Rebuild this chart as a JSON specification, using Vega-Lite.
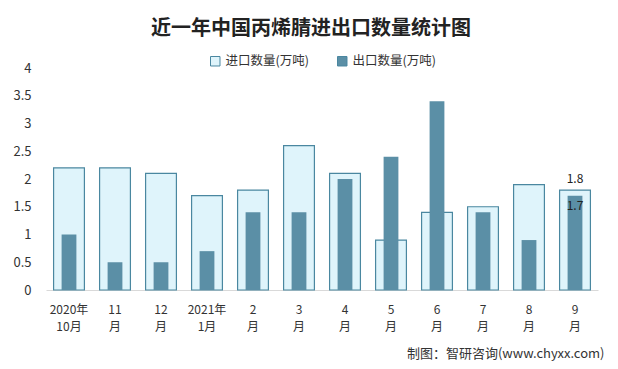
{
  "$schema": "https://vega.github.io/schema/vega-lite/v6.json",
  "width": 552,
  "height": 222,
  "padding": {"left": 12, "top": 19, "right": 20, "bottom": 5},
  "background": "white",
  "title": {
    "text": "近一年中国丙烯腈进出口数量统计图",
    "fontSize": 20,
    "fontWeight": "bold",
    "font": "Noto Sans CJK SC",
    "color": "#222222",
    "anchor": "middle",
    "frame": "group",
    "dx": -11,
    "offset": 16
  },
  "data": {
    "values": [
      {"m": "2020年|10月", "s": "进口数量(万吨)", "v": 2.2},
      {"m": "11|月", "s": "进口数量(万吨)", "v": 2.2},
      {"m": "12|月", "s": "进口数量(万吨)", "v": 2.1},
      {"m": "2021年|1月", "s": "进口数量(万吨)", "v": 1.7},
      {"m": "2|月", "s": "进口数量(万吨)", "v": 1.8},
      {"m": "3|月", "s": "进口数量(万吨)", "v": 2.6},
      {"m": "4|月", "s": "进口数量(万吨)", "v": 2.1},
      {"m": "5|月", "s": "进口数量(万吨)", "v": 0.9},
      {"m": "6|月", "s": "进口数量(万吨)", "v": 1.4},
      {"m": "7|月", "s": "进口数量(万吨)", "v": 1.5},
      {"m": "8|月", "s": "进口数量(万吨)", "v": 1.9},
      {"m": "9|月", "s": "进口数量(万吨)", "v": 1.8},
      {"m": "2020年|10月", "s": "出口数量(万吨)", "v": 1.0},
      {"m": "11|月", "s": "出口数量(万吨)", "v": 0.5},
      {"m": "12|月", "s": "出口数量(万吨)", "v": 0.5},
      {"m": "2021年|1月", "s": "出口数量(万吨)", "v": 0.7},
      {"m": "2|月", "s": "出口数量(万吨)", "v": 1.4},
      {"m": "3|月", "s": "出口数量(万吨)", "v": 1.4},
      {"m": "4|月", "s": "出口数量(万吨)", "v": 2.0},
      {"m": "5|月", "s": "出口数量(万吨)", "v": 2.4},
      {"m": "6|月", "s": "出口数量(万吨)", "v": 3.4},
      {"m": "7|月", "s": "出口数量(万吨)", "v": 1.4},
      {"m": "8|月", "s": "出口数量(万吨)", "v": 0.9},
      {"m": "9|月", "s": "出口数量(万吨)", "v": 1.7}
    ]
  },
  "encoding": {
    "x": {
      "field": "m",
      "type": "nominal",
      "sort": null,
      "scale": {"paddingInner": 0.33, "paddingOuter": 0.165},
      "axis": {
        "title": "制图：智研咨询(www.chyxx.com)",
        "titleAnchor": "end",
        "titleAlign": "right",
        "titleFontSize": 13,
        "titleFontWeight": "normal",
        "titleColor": "#333333",
        "titlePadding": 15,
        "titleX": 558,
        "labelExpr": "split(datum.label, '|')",
        "labelAngle": 0,
        "labelFontSize": 12,
        "labelColor": "#333333",
        "labelPadding": 14,
        "labelLineHeight": 17,
        "ticks": false,
        "domainColor": "#d9d9d9"
      }
    },
    "y": {
      "field": "v",
      "type": "quantitative",
      "stack": null,
      "scale": {"domain": [0, 4]},
      "axis": {
        "title": null,
        "values": [0, 0.5, 1, 1.5, 2, 2.5, 3, 3.5, 4],
        "labelExpr": "datum.value",
        "labelOverlap": false,
        "grid": false,
        "domain": false,
        "ticks": false,
        "labelFontSize": 13,
        "labelColor": "#333333",
        "labelPadding": 15
      }
    }
  },
  "layer": [
    {
      "transform": [{"filter": "datum.s == '进口数量(万吨)'"}],
      "mark": {"type": "bar", "stroke": "#4A87A0", "strokeWidth": 1.2},
      "encoding": {
        "fill": {
          "field": "s",
          "type": "nominal",
          "scale": {"domain": ["进口数量(万吨)", "出口数量(万吨)"], "range": ["#DFF4FB", "#5B8FA6"]},
          "legend": {
            "title": null,
            "orient": "top",
            "direction": "horizontal",
            "symbolType": "square",
            "symbolSize": 90,
            "symbolStrokeColor": "#4A87A0",
            "symbolStrokeWidth": 1,
            "labelFontSize": 12.5,
            "labelColor": "#333333",
            "columnPadding": 26,
            "offset": 0
          }
        }
      }
    },
    {
      "transform": [{"filter": "datum.s == '出口数量(万吨)'"}],
      "mark": {"type": "bar", "width": {"band": 0.48}},
      "encoding": {
        "fill": {"field": "s", "type": "nominal"}
      }
    },
    {
      "transform": [{"filter": "datum.m == '9|月' && datum.s == '进口数量(万吨)'"}],
      "mark": {"type": "text", "dy": -11, "fontSize": 12, "color": "#222222"},
      "encoding": {
        "text": {"field": "v", "type": "quantitative", "format": ".1f"}
      }
    },
    {
      "transform": [{"filter": "datum.m == '9|月' && datum.s == '出口数量(万吨)'"}],
      "mark": {"type": "text", "dy": 10, "fontSize": 12, "color": "#222222"},
      "encoding": {
        "text": {"field": "v", "type": "quantitative", "format": ".1f"}
      }
    }
  ],
  "config": {
    "font": "Noto Sans CJK SC",
    "view": {"stroke": null},
    "legend": {"layout": {"top": {"anchor": "middle"}}}
  }
}
